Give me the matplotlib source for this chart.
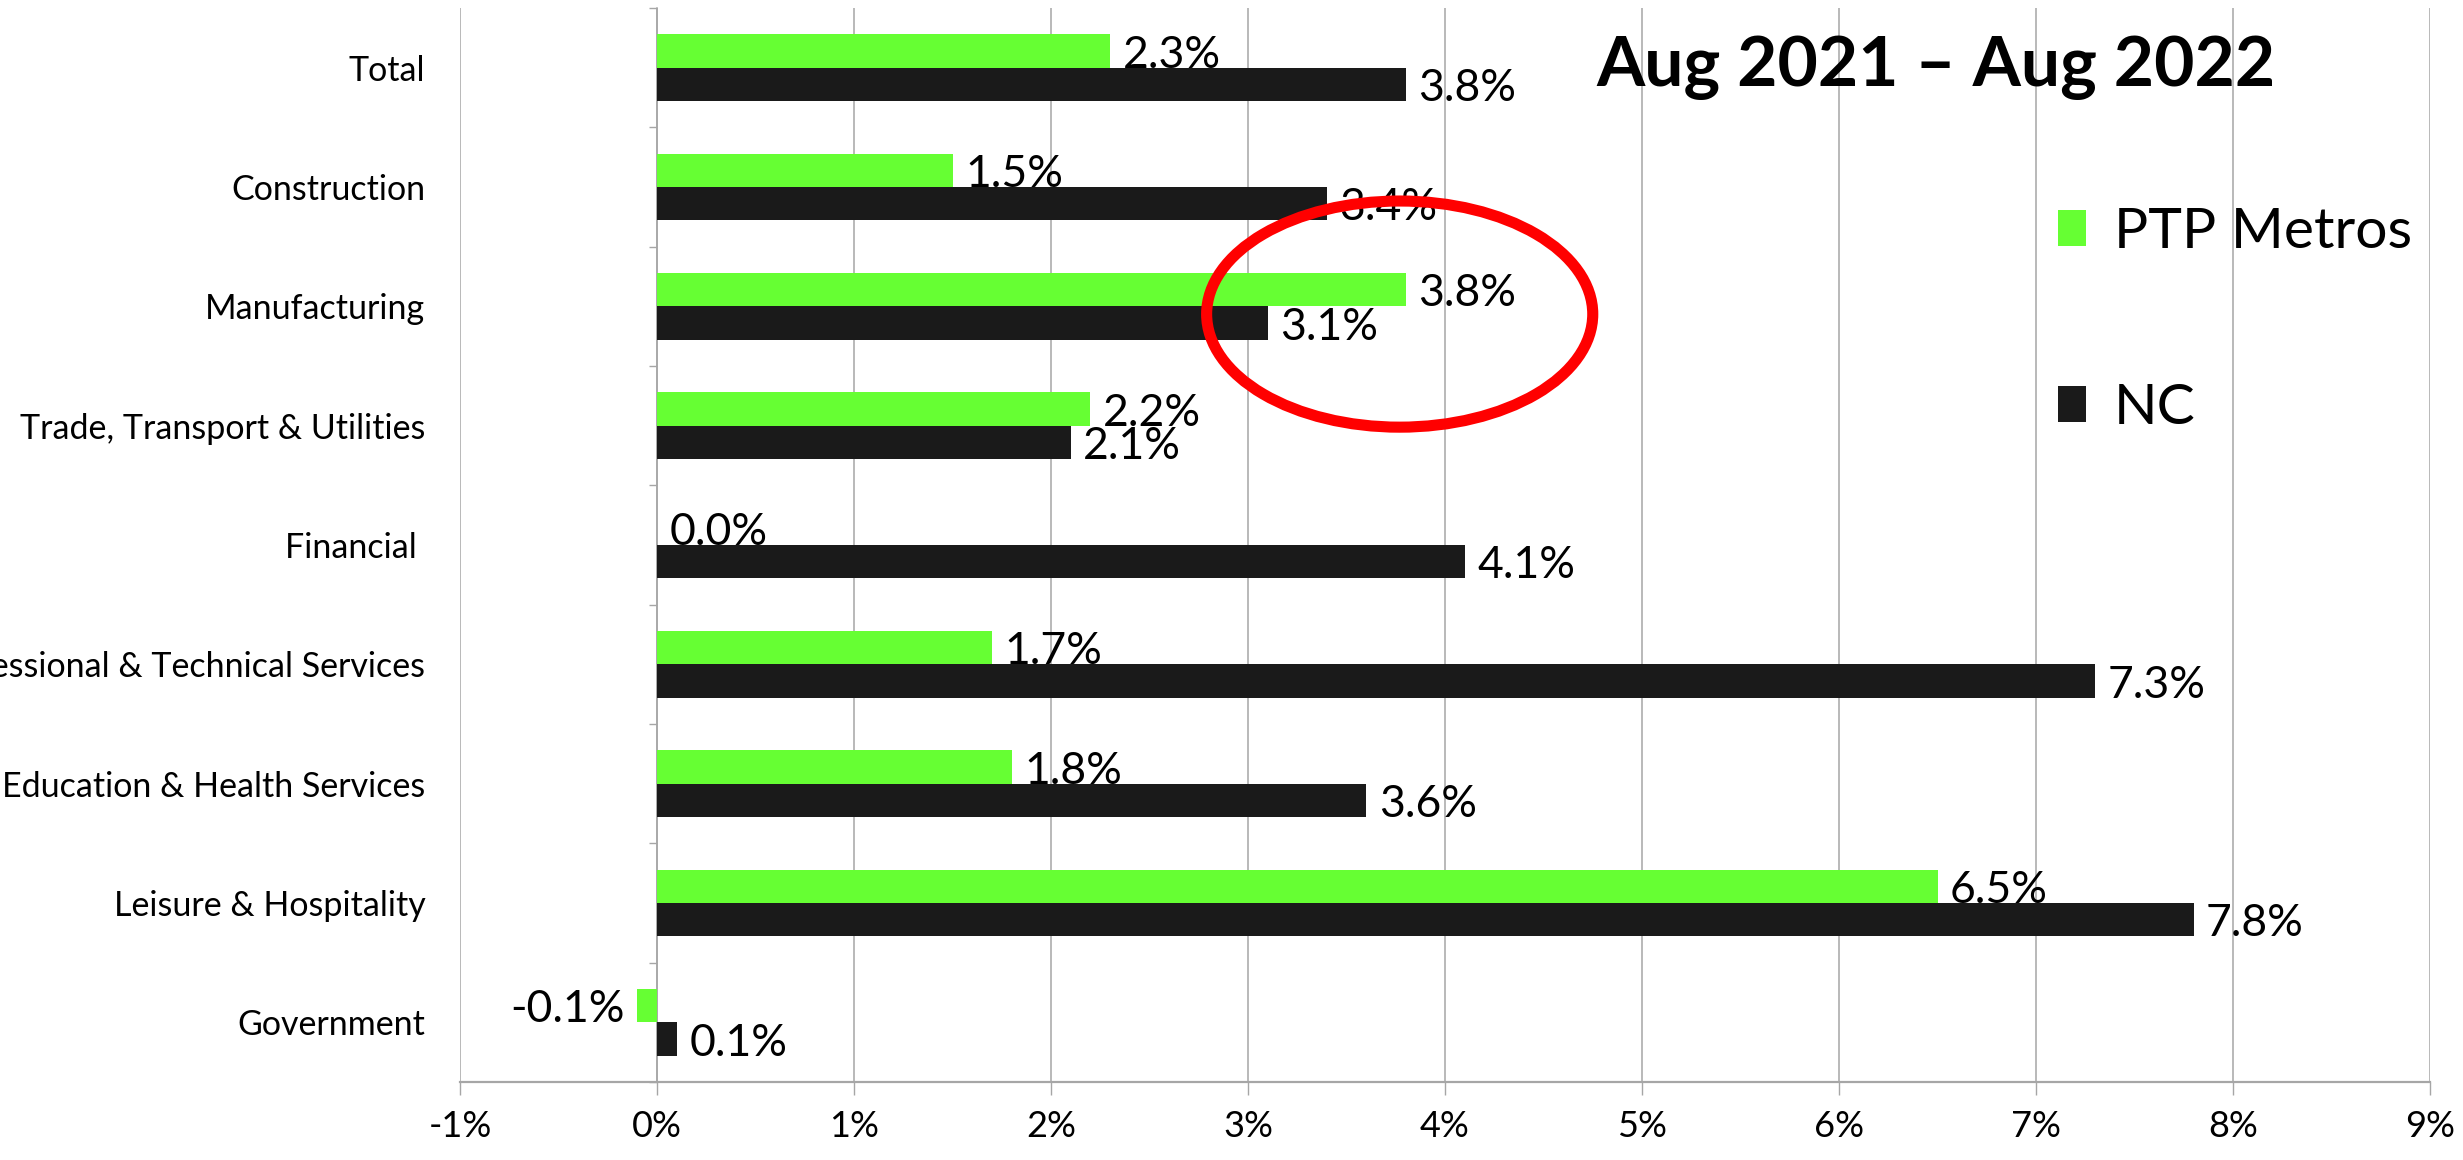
import matplotlib
matplotlib.use("Agg")
import matplotlib.pyplot as plt
from matplotlib.patches import Ellipse
from matplotlib.ticker import FuncFormatter, FixedLocator
import numpy as np

plt.rcParams['font.family'] = ['Lato', 'DejaVu Sans']

categories = ["Total", "Construction", "Manufacturing", "Trade, Transport & Utilities",
              "Financial ", "Professional & Technical Services", "Education & Health Services",
              "Leisure & Hospitality", "Government"]
ptp_metros = [2.3, 1.5, 3.8, 2.2, 0.0, 1.7, 1.8, 6.5, -0.1]
nc = [3.8, 3.4, 3.1, 2.1, 4.1, 7.3, 3.6, 7.8, 0.1]
series_names = ["PTP Metros", "NC"]
x_ticks = [-1, 0, 1, 2, 3, 4, 5, 6, 7, 8, 9]
title = "Aug 2021 \u2013 Aug 2022"

GREEN = "#66FF33"
BLACK = "#1A1A1A"
GRID = "#A6A6A6"

W, H = 2463, 1160
fig = plt.figure(figsize=(W / 100, H / 100), dpi=100)
L, R, T, B = 460, 2430, 8, 1082
ax = fig.add_axes([L / W, 1 - B / H, (R - L) / W, (B - T) / H])

pos = np.arange(len(categories))
h = 0.28
b1 = ax.barh(pos - h / 2, ptp_metros, height=h, color=GREEN, zorder=3, label=series_names[0])
b2 = ax.barh(pos + h / 2, nc, height=h, color=BLACK, zorder=3, label=series_names[1])

ax.set_xlim(x_ticks[0], x_ticks[-1])
ax.set_ylim(len(categories) - 0.5, -0.5)

# data labels
for bars, vals in ((b1, ptp_metros), (b2, nc)):
    for rect, v in zip(bars, vals):
        yc = rect.get_y() + rect.get_height() / 2
        if v < 0:
            ax.annotate(f"{v:.1f}%", (v, yc), xytext=(-9, -3), textcoords='offset points',
                        ha='right', va='center', fontsize=32, color='black', zorder=4)
        else:
            ax.annotate(f"{v:.1f}%", (v, yc), xytext=(9, -3), textcoords='offset points',
                        ha='left', va='center', fontsize=32, color='black', zorder=4)

# x axis
ax.xaxis.set_major_locator(FixedLocator(x_ticks))
ax.xaxis.set_major_formatter(FuncFormatter(lambda v, p: f"{v:.0f}%"))
ax.tick_params(axis='x', labelsize=26, length=9, width=1, color=GRID, pad=11)
ax.grid(axis='x', color=GRID, linewidth=1.1, zorder=0)
ax.set_axisbelow(True)

# y axis labels
ax.set_yticks(pos)
ax.set_yticklabels(categories, fontsize=24.5)
ax.tick_params(axis='y', length=0, pad=25)

for s in ('top', 'right', 'left'):
    ax.spines[s].set_visible(False)
ax.spines['bottom'].set_color(GRID)
ax.spines['bottom'].set_linewidth(1.6)

# category axis at 0%
sec = ax.secondary_yaxis((0 - x_ticks[0]) / (x_ticks[-1] - x_ticks[0]))
sec.set_yticks(np.arange(len(categories) + 1) - 0.5)
sec.set_yticklabels([])
sec.tick_params(axis='y', length=6, width=1, color=GRID, direction='out')
sec.spines['left'].set_color(GRID)
sec.spines['left'].set_linewidth(1.1)

# red ellipse
ell = Ellipse((3.77, 2.065), width=1.96, height=1.895, fill=False, edgecolor='#FF0000',
              linewidth=8, zorder=5)
ax.add_patch(ell)

# title
fig.text(1936 / W, 1 - 68 / H, title, ha='center', va='center', fontsize=50,
         fontweight='bold', color='black')

# legend
leg = ax.legend(handles=[b1, b2], labels=series_names, loc='upper left',
                bbox_to_anchor=(2058 / W, 1 - 207 / H), bbox_transform=fig.transFigure,
                frameon=False, fontsize=41, handlelength=0.5, handleheight=0.6,
                handletextpad=0.48, labelspacing=2.2, borderpad=0, borderaxespad=0)

fig.savefig("out.png", dpi=100, facecolor='white')
